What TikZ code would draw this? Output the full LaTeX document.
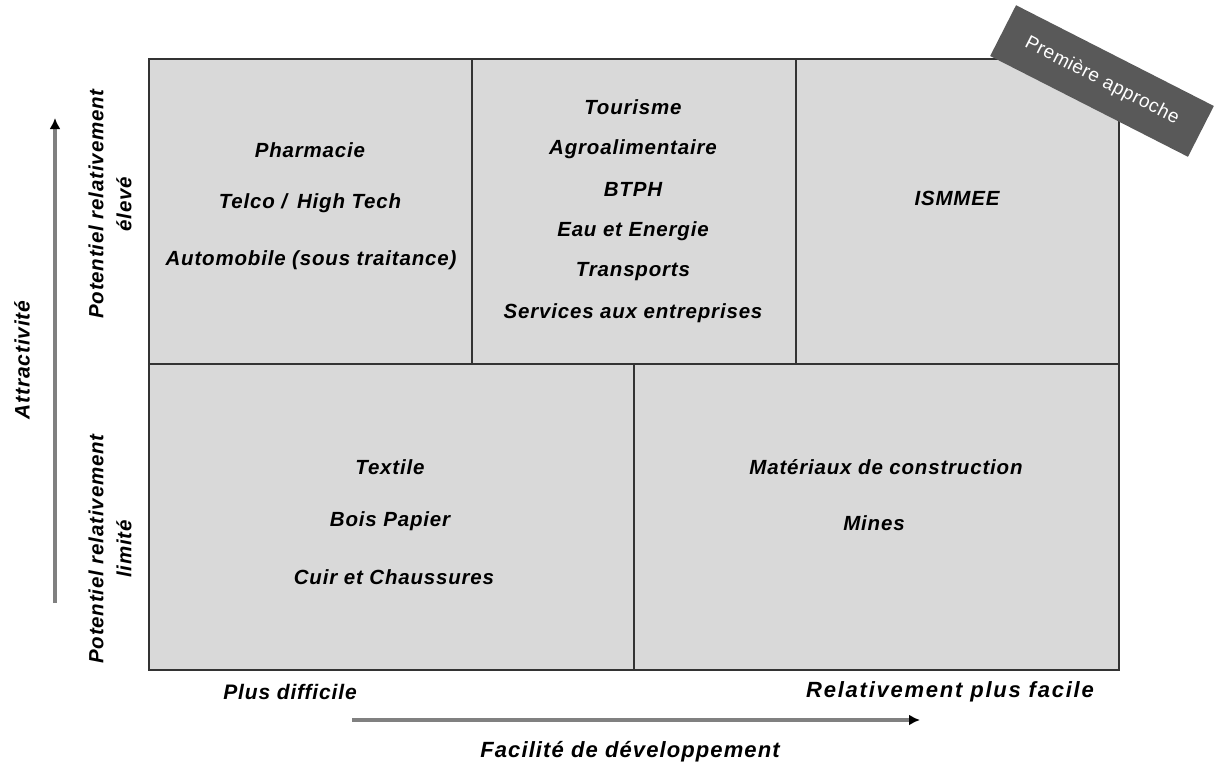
\documentclass[tikz,border=0pt]{standalone}
\usepackage{fontspec}
\setmainfont{Liberation Sans}
\usetikzlibrary{arrows.meta}
\begin{document}
\begin{tikzpicture}[x=1pt,y=-1pt,
  cell/.style={draw=black!80, line width=2pt, fill=black!15, inner sep=0pt, anchor=north west},
  lbl/.style={font=\fontsize{20.5}{24}\selectfont\bfseries\itshape\addfontfeature{LetterSpace=4}, inner sep=0pt, align=center},
  axlbl/.style={font=\fontsize{21}{25}\selectfont\bfseries\itshape\addfontfeature{LetterSpace=4}, inner sep=0pt, align=center},
  wide/.style={font=\fontsize{22}{25}\selectfont\bfseries\itshape\addfontfeature{LetterSpace=8}},
  arr/.style={draw=black!50, line width=3.5pt, -{Latex[length=11pt,width=11pt,color=black]}},
  banner/.style={fill=black!65, text=white, font=\fontsize{19}{22}\selectfont\addfontfeature{LetterSpace=3}, minimum width=222pt, minimum height=57pt, inner sep=0pt}]
\useasboundingbox (0,0) rectangle (1216,768);
% cells
\node[cell, minimum width=323pt, minimum height=305pt] (c11) at (148,58) {};
\node[cell, minimum width=324pt, minimum height=305pt] (c12) at (471,58) {};
\node[cell, minimum width=323pt, minimum height=305pt] (c13) at (795,58) {};
\node[cell, minimum width=485pt, minimum height=306pt] (c21) at (148,363) {};
\node[cell, minimum width=485pt, minimum height=306pt] (c22) at (633,363) {};
% banner
\node[banner, rotate=-27] (ban) at (1102,81) {Première approche};
% top-left texts
\node[lbl] (t1) at (310,150) {Pharmacie};
\node[lbl] (t2) at (310,203) {Telco / \,High Tech};
\node[lbl] (t3) at (311,260) {Automobile (sous traitance)};
% top-middle
\node[lbl] (m1) at (633,107) {Tourisme};
\node[lbl] (m2) at (633,149) {Agroalimentaire};
\node[lbl] (m3) at (633,189) {BTPH};
\node[lbl] (m4) at (633,231) {Eau et Energie};
\node[lbl] (m5) at (633,272) {Transports};
\node[lbl] (m6) at (633,313) {Services aux entreprises};
% top-right
\node[lbl] (r1) at (957,198) {ISMMEE};
% bottom-left
\node[lbl] (b1) at (390,467) {Textile};
\node[lbl] (b2) at (390,521) {Bois Papier};
\node[lbl] (b3) at (394,577) {Cuir et Chaussures};
% bottom-right
\node[lbl] (d1) at (886,467) {Matériaux de construction};
\node[lbl] (d2) at (874,523) {Mines};
% left labels
\node[lbl, rotate=90] (pe) at (110,204) {Potentiel relativement\\[4pt]élevé};
\node[lbl, rotate=90] (pl) at (110,549) {Potentiel relativement\\[4pt]limité};
\node[axlbl, rotate=90] (att) at (22,360) {Attractivité};
% bottom labels
\node[axlbl] (pd) at (290,692) {Plus difficile};
\node[axlbl, wide] (pf) at (950,692) {Relativement plus facile};
\node[axlbl, font=\fontsize{22}{25}\selectfont\bfseries\itshape\addfontfeature{LetterSpace=5}] (fd) at (630,752) {Facilité de développement};
% arrows
\coordinate (va) at (55,603);
\coordinate (vb) at (55,118);
\coordinate (ha) at (352,720);
\coordinate (hb) at (920,720);
\draw[arr] (va) -- (vb);
\draw[arr] (ha) -- (hb);
\end{tikzpicture}
\end{document}
